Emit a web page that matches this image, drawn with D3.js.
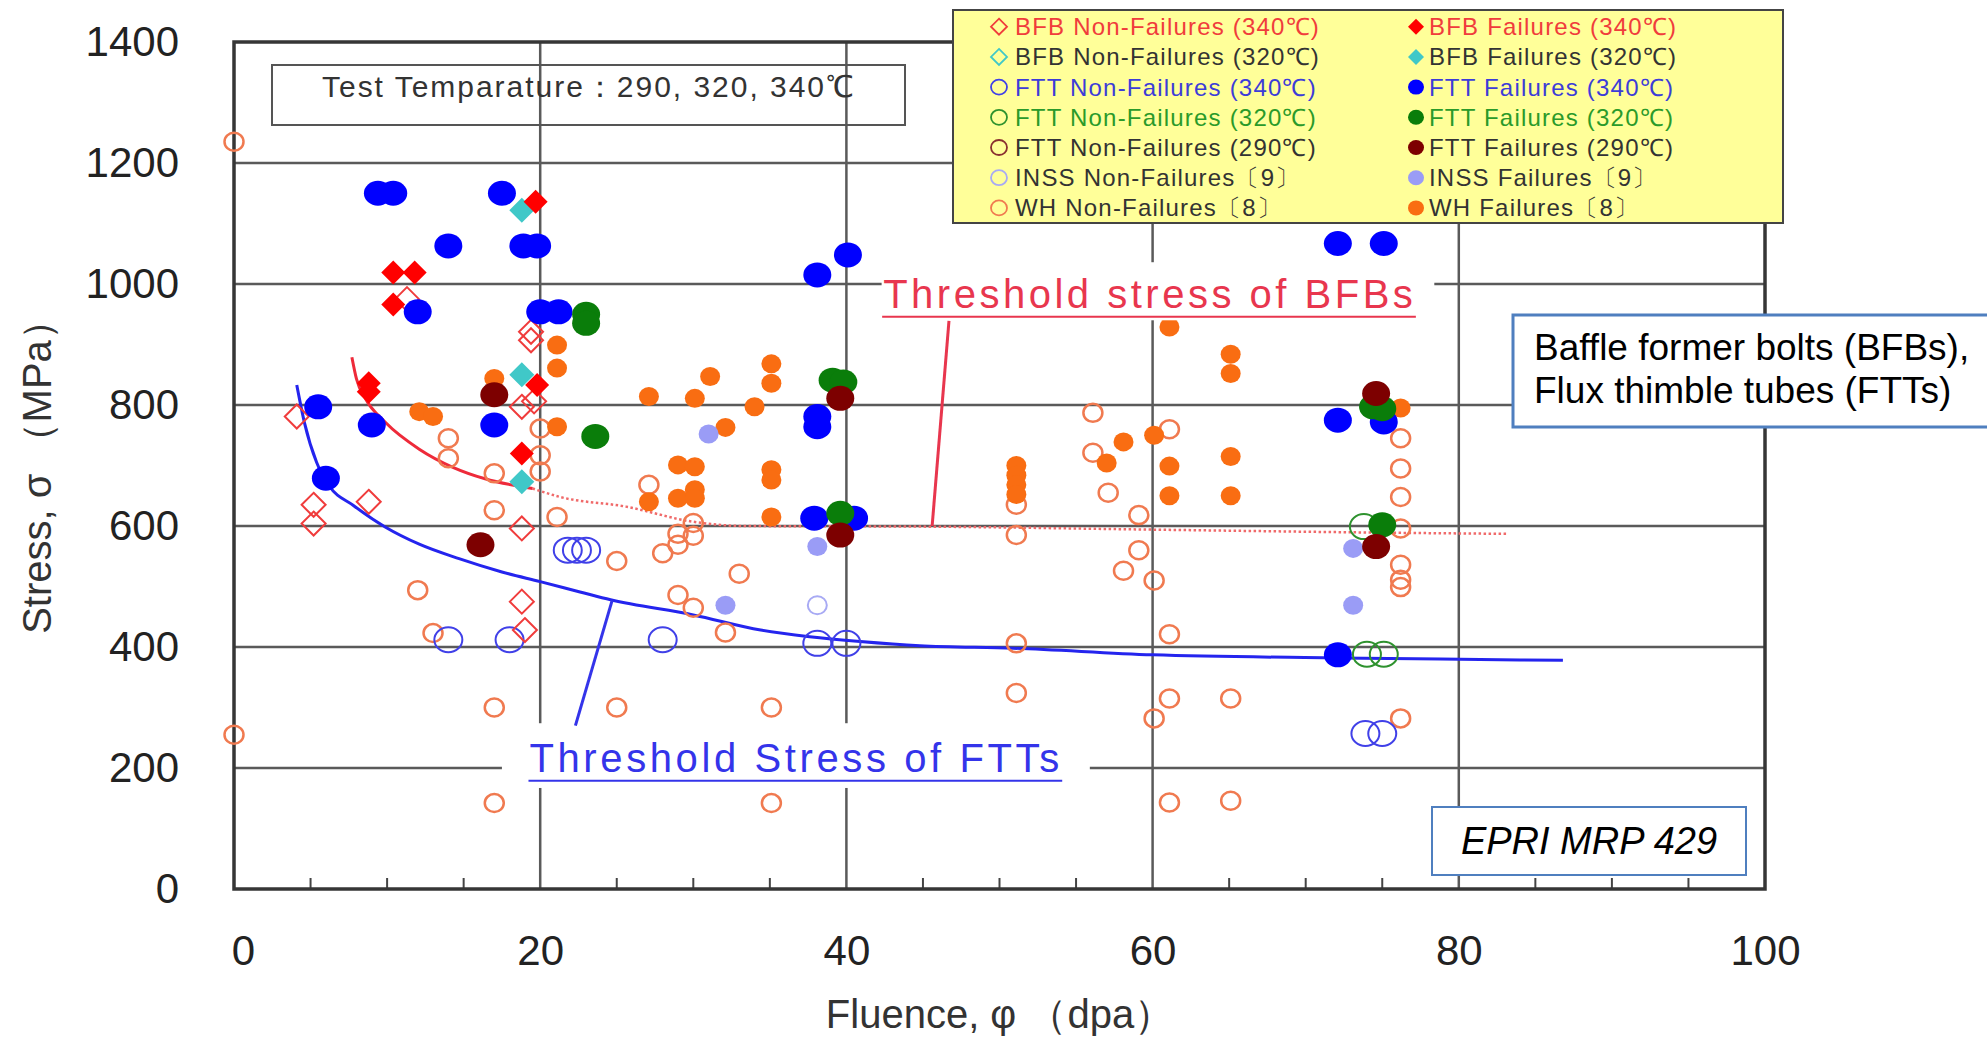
<!DOCTYPE html>
<html>
<head>
<meta charset="utf-8">
<script src="https://cdn.jsdelivr.net/npm/d3@7"></script>
<style>
body{margin:0;background:#fff;}
text{font-family:"Liberation Sans",Arial,sans-serif;}
</style>
</head>
<body>
<svg id="chart"></svg>
<script>

//tick values
var xTicks = [0,20,40,60,80,100];
var xMinorTicks = [5,10,15,25,30,35,45,50,55,65,70,75,85,90,95];
var yTicks = [0,200,400,600,800,1000,1200,1400];

//[fluence dpa, stress MPa]
var bfbFail340 = [[8.8,836],[8.8,822],[10.4,1019],[11.8,1019],[10.4,966],[18.8,720],[19.7,1136],[19.8,833]];
var bfbNon340 = [[4.1,781],[5.2,635],[5.2,604],[8.8,640],[11.3,975],[18.8,797],[19.6,806],[19.4,921],
                 [19.4,907],[18.8,596],[18.8,475],[19.0,428]];
var bfbFail320 = [[18.8,1122],[18.8,850],[18.8,673]];
var bfbNon320 = [];
var fttFail340 = [[5.5,797],[6.0,679],[9.0,767],[9.4,1150],[10.4,1150],[12.0,954],[14.0,1063],[17.0,767],
                  [17.5,1150],[18.9,1063],[19.8,1063],[20.0,954],[21.2,954],[37.9,613],[38.1,1015],
                  [38.1,781],[38.1,764],[40.1,1048],[40.5,613],[72.1,1067],[75.1,1067],[72.1,775],
                  [75.1,772],[72.1,387]];
var fttNon340 = [[14.0,412],[18.0,412],[21.8,560],[22.4,560],[23.0,560],[28.0,412],[38.1,406],[40.0,406],
                 [73.9,257],[75.0,257]];
var fttFail320 = [[23.0,950],[23.0,935],[23.6,748],[39.1,841],[39.8,838],[39.6,621],[74.4,797],[75.0,794],[75.0,602]];
var fttNon320 = [[73.8,599],[74.0,388],[75.1,388]];
var fttFail290 = [[16.1,569],[17.0,817],[39.6,811],[39.6,585],[74.6,819],[74.6,566]];
var fttNon290 = [];
var inssFail = [[31.0,752],[32.1,469],[38.1,566],[73.1,563],[73.1,469]];
var inssNon = [[38.1,469]];
var whFail = [[12.1,789],[13.0,781],[17.0,844],[21.1,899],[21.1,861],[21.1,764],
              [27.1,814],[27.1,640],[29.0,701],[29.0,646],[30.1,698],[30.1,660],[30.1,646],[30.1,811],
              [31.1,847],[32.1,763],[34.0,797],[35.1,868],[35.1,836],[35.1,693],[35.1,676],[35.1,615],
              [51.1,700],[51.1,684],[51.1,668],[51.1,652],
              [57.0,704],[58.1,739],[60.1,750],[61.1,929],[61.1,699],[61.1,650],[65.1,884],[65.1,852],
              [65.1,715],[65.1,650],[76.2,795]];
var whNon = [[0,1235],[0,255],
             [12.0,494],[13.0,423],[14.0,745],[14.0,712],[17.0,687],[17.0,626],[17.0,300],[17.0,142],
             [20.0,761],[20.0,717],[20.0,690],[21.1,615],
             [25.0,542],[25.0,300],[27.1,668],[28.0,555],[29.0,587],[29.0,569],[29.0,486],[30.0,605],
             [30.0,584],[30.0,465],[32.1,424],[33.0,521],[35.1,300],[35.1,142],
             [51.1,635],[51.1,585],[51.1,406],[51.1,324],
             [56.1,787],[56.1,721],[57.1,655],[58.1,526],[59.1,618],[59.1,560],[60.1,510],[60.1,282],
             [61.1,760],[61.1,421],[61.1,315],[61.1,143],[65.1,315],[65.1,146],
             [76.2,745],[76.2,695],[76.2,648],[76.2,596],[76.2,536],[76.2,511],[76.2,499],[76.2,282]];

//threshold curves
var bfbCurve = [[7.7,879],[8.0,843],[8.6,810],[9.9,771],[12.1,727],[14.3,697],[16.4,678],[19.5,662]];
var bfbCurveDotted = [[19.5,662],[21.3,648],[25.6,632],[30.0,607],[33.3,600],[45,599],[60,594],[75,589],[83.2,587]];
var fttCurve = [[4.1,833],[4.6,771],[5.4,705],[6.2,667],[7.8,634],[9.9,598],[12.1,570],[14.7,546],[17.5,524],
                [20.0,508],[22.6,491],[24.6,478],[30.0,453],[34.4,428],[37.6,417],[40.9,409],[44.8,402],
                [50.9,398],[60.0,387],[72.1,382],[78.8,380],[86.8,378]];

var legendOpen = ["BFB Non-Failures (340℃)","BFB Non-Failures (320℃)","FTT Non-Failures (340℃)",
                  "FTT Non-Failures (320℃)","FTT Non-Failures (290℃)","INSS Non-Failures〔9〕","WH Non-Failures〔8〕"];
var legendFilled = ["BFB Failures (340℃)","BFB Failures (320℃)","FTT Failures (340℃)",
                    "FTT Failures (320℃)","FTT Failures (290℃)","INSS Failures〔9〕","WH Failures〔8〕"];

//styles for each kind of marker
var styles = {
    bfbNon340:{shape:"diamond",size:12,fill:"none",stroke:"#f03c3c",sw:2},
    bfbNon320:{shape:"diamond",size:12,fill:"none",stroke:"#40c8c8",sw:2},
    fttNon340:{shape:"circle",rx:14,ry:12.5,fill:"none",stroke:"#4040e8",sw:2},
    fttNon320:{shape:"circle",rx:14,ry:12.5,fill:"none",stroke:"#2e922e",sw:2},
    fttNon290:{shape:"circle",rx:14,ry:12.5,fill:"none",stroke:"#8a3030",sw:2},
    inssNon:{shape:"circle",rx:9.5,ry:9,fill:"none",stroke:"#a8aaf4",sw:2},
    whNon:{shape:"circle",rx:9.5,ry:9,fill:"none",stroke:"#f07a50",sw:2.5},
    bfbFail340:{shape:"diamond",size:12,fill:"#ff0000",stroke:"none",sw:0},
    bfbFail320:{shape:"diamond",size:12.5,fill:"#40c8c8",stroke:"none",sw:0},
    fttFail340:{shape:"circle",rx:14,ry:12.5,fill:"#0000ff",stroke:"none",sw:0},
    fttFail320:{shape:"circle",rx:14,ry:12.5,fill:"#0a7d0a",stroke:"none",sw:0},
    fttFail290:{shape:"circle",rx:14,ry:12.5,fill:"#7d0000",stroke:"none",sw:0},
    inssFail:{shape:"circle",rx:10,ry:9.5,fill:"#9a9cf6",stroke:"none",sw:0},
    whFail:{shape:"circle",rx:10,ry:9.5,fill:"#f96d12",stroke:"none",sw:0}
};

//draw order, open markers first
var series = [
    {key:"whNon",data:whNon},{key:"inssNon",data:inssNon},
    {key:"fttNon340",data:fttNon340},{key:"fttNon320",data:fttNon320},{key:"fttNon290",data:fttNon290},
    {key:"bfbNon340",data:bfbNon340},{key:"bfbNon320",data:bfbNon320},
    {key:"whFail",data:whFail},{key:"inssFail",data:inssFail},
    {key:"fttFail340",data:fttFail340},{key:"fttFail320",data:fttFail320},{key:"fttFail290",data:fttFail290},
    {key:"bfbFail320",data:bfbFail320},{key:"bfbFail340",data:bfbFail340}
];

var legendKeysOpen = ["bfbNon340","bfbNon320","fttNon340","fttNon320","fttNon290","inssNon","whNon"];
var legendKeysFilled = ["bfbFail340","bfbFail320","fttFail340","fttFail320","fttFail290","inssFail","whFail"];
var legendTextColors = ["#f03c3c","#333333","#3c3cd8","#2a9a2a","#333333","#333333","#333333"];


var diamondPath = function(h)
{
    return "M0,"+(-h)+"L"+h+",0L0,"+h+"L"+(-h)+",0Z";
}

var drawPoints = function(g,points,st,xScale,yScale)
{
    if(st.shape=="diamond")
    {
        g.selectAll(null)
            .data(points)
            .enter()
            .append("path")
            .attr("d",diamondPath(st.size))
            .attr("transform",function(d){return "translate("+xScale(d[0])+","+yScale(d[1])+")";})
            .attr("fill",st.fill)
            .attr("stroke",st.stroke)
            .attr("stroke-width",st.sw)
    }
    else
    {
        g.selectAll(null)
            .data(points)
            .enter()
            .append("ellipse")
            .attr("cx",function(d){return xScale(d[0]);})
            .attr("cy",function(d){return yScale(d[1]);})
            .attr("rx",st.rx)
            .attr("ry",st.ry)
            .attr("fill",st.fill)
            .attr("stroke",st.stroke)
            .attr("stroke-width",st.sw)
    }
}

var drawLegendMarker = function(g,x,y,st)
{
    if(st.shape=="diamond")
    {
        g.append("path")
            .attr("d",diamondPath(8))
            .attr("transform","translate("+x+","+y+")")
            .attr("fill",st.fill)
            .attr("stroke",st.stroke)
            .attr("stroke-width",st.sw==0?0:1.8)
    }
    else
    {
        g.append("ellipse")
            .attr("cx",x).attr("cy",y)
            .attr("rx",8).attr("ry",7.5)
            .attr("fill",st.fill)
            .attr("stroke",st.stroke)
            .attr("stroke-width",st.sw==0?0:1.8)
    }
}


var initGraph = function(target)
{
    var screen = {width:1987, height:1038};
    var plot = {left:234, right:1765, top:42, bottom:889};

    var svg = d3.select(target)
        .attr("width",screen.width)
        .attr("height",screen.height)

    var xScale = d3.scaleLinear()
        .domain([0,100])
        .range([plot.left,plot.right])
    var yScale = d3.scaleLinear()
        .domain([0,1400])
        .range([plot.bottom,plot.top])

    //grid
    var grid = svg.append("g").classed("grid",true)
    grid.selectAll(".vgrid")
        .data(xTicks.slice(1,-1))
        .enter()
        .append("line")
        .attr("x1",function(d){return xScale(d);})
        .attr("x2",function(d){return xScale(d);})
        .attr("y1",plot.top)
        .attr("y2",plot.bottom)
        .attr("stroke","#5a5a5a")
        .attr("stroke-width",2.5)
    grid.selectAll(".hgrid")
        .data(yTicks.slice(1,-1))
        .enter()
        .append("line")
        .attr("x1",plot.left)
        .attr("x2",plot.right)
        .attr("y1",function(d){return yScale(d);})
        .attr("y2",function(d){return yScale(d);})
        .attr("stroke","#5a5a5a")
        .attr("stroke-width",2.5)

    //minor ticks on the bottom, pointing up
    grid.selectAll(".minor")
        .data(xMinorTicks)
        .enter()
        .append("line")
        .attr("x1",function(d){return xScale(d);})
        .attr("x2",function(d){return xScale(d);})
        .attr("y1",plot.bottom)
        .attr("y2",plot.bottom-11)
        .attr("stroke","#444")
        .attr("stroke-width",2)

    //frame
    svg.append("rect")
        .attr("x",plot.left)
        .attr("y",plot.top)
        .attr("width",plot.right-plot.left)
        .attr("height",plot.bottom-plot.top)
        .attr("fill","none")
        .attr("stroke","#363636")
        .attr("stroke-width",3.5)

    //axes labels
    var yAxis = d3.axisLeft(yScale).tickValues(yTicks).tickFormat(d3.format("d")).tickSize(0).tickPadding(55)
    var xAxis = d3.axisBottom(xScale).tickValues(xTicks).tickFormat(d3.format("d")).tickSize(0).tickPadding(46)
    svg.append("g")
        .classed("yaxis",true)
        .attr("transform","translate("+plot.left+",0)")
        .call(yAxis)
    svg.append("g")
        .classed("xaxis",true)
        .attr("transform","translate(0,"+plot.bottom+")")
        .call(xAxis)
    svg.selectAll(".xaxis .domain, .yaxis .domain").remove()
    svg.selectAll(".xaxis text, .yaxis text")
        .attr("font-family","Liberation Sans, Arial, sans-serif")
        .attr("font-size",42)
        .attr("fill","#222")
    //the zero label sits a little right of the axis
    svg.selectAll(".xaxis text")
        .filter(function(d){return d==0;})
        .attr("dx",9)

    svg.append("text")
        .attr("transform","translate(37,467) rotate(-90)")
        .attr("text-anchor","middle")
        .attr("dominant-baseline","central")
        .attr("font-size",40)
        .attr("fill","#333")
        .text("Stress, σ （MPa）")
    svg.append("text")
        .attr("x",1000)
        .attr("y",1028)
        .attr("text-anchor","middle")
        .attr("font-size",40)
        .attr("fill","#333")
        .text("Fluence, φ （dpa）")

    //threshold curves
    var line = d3.line()
        .x(function(d){return xScale(d[0]);})
        .y(function(d){return yScale(d[1]);})
        .curve(d3.curveMonotoneX)
    svg.append("path")
        .datum(bfbCurveDotted)
        .attr("d",line)
        .attr("fill","none")
        .attr("stroke","#f06a6a")
        .attr("stroke-width",2.5)
        .attr("stroke-dasharray","2.5,2.5")
    svg.append("path")
        .datum(bfbCurve)
        .attr("d",line)
        .attr("fill","none")
        .attr("stroke","#ee2a3a")
        .attr("stroke-width",3)
    svg.append("path")
        .datum(fttCurve)
        .attr("d",line)
        .attr("fill","none")
        .attr("stroke","#2424ee")
        .attr("stroke-width",3)

    //markers
    var marks = svg.append("g").classed("graph",true)
    series.forEach(function(s)
    {
        drawPoints(marks.append("g"),s.data,styles[s.key],xScale,yScale);
    })

    //curve notes
    drawNote(svg,xScale,yScale,{
        box:[42.3,78.4,1036,940],
        text:"Threshold stress of BFBs", x0:42.4, x1:77.0, base:960, under:946,
        leader:[[46.7,939],[45.6,600]], color:"#e8364e"
    })
    drawNote(svg,xScale,yScale,{
        box:[17.5,55.9,274,167],
        text:"Threshold Stress of FTTs", x0:19.3, x1:53.9, base:193, under:179,
        leader:[[24.7,477],[22.3,270]], color:"#3434ea"
    })

    drawBoxes(svg);
    drawLegend(svg);
}

var drawNote = function(svg,xScale,yScale,n)
{
    svg.append("rect")
        .attr("x",xScale(n.box[0]))
        .attr("y",yScale(n.box[2]))
        .attr("width",xScale(n.box[1])-xScale(n.box[0]))
        .attr("height",yScale(n.box[3])-yScale(n.box[2]))
        .attr("fill","#fff")
    svg.append("text")
        .attr("x",xScale(n.x0))
        .attr("y",yScale(n.base))
        .attr("font-size",40)
        .attr("fill",n.color)
        .attr("textLength",xScale(n.x1)-xScale(n.x0))
        .attr("lengthAdjust","spacing")
        .text(n.text)
    svg.append("line")
        .attr("x1",xScale(n.x0)-1)
        .attr("x2",xScale(n.x1)+3)
        .attr("y1",yScale(n.under))
        .attr("y2",yScale(n.under))
        .attr("stroke",n.color)
        .attr("stroke-width",2)
    svg.append("line")
        .attr("x1",xScale(n.leader[0][0]))
        .attr("y1",yScale(n.leader[0][1]))
        .attr("x2",xScale(n.leader[1][0]))
        .attr("y2",yScale(n.leader[1][1]))
        .attr("stroke",n.color)
        .attr("stroke-width",3)
}

var drawBoxes = function(svg)
{
    //test temperature box
    svg.append("rect")
        .attr("x",272).attr("y",65)
        .attr("width",633).attr("height",60)
        .attr("fill","none")
        .attr("stroke","#555")
        .attr("stroke-width",2)
    svg.append("text")
        .attr("x",322).attr("y",97)
        .attr("font-size",30)
        .attr("textLength",532)
        .attr("lengthAdjust","spacing")
        .attr("fill","#333")
        .text("Test Temparature：290, 320, 340℃")

    //description box
    svg.append("rect")
        .attr("x",1513).attr("y",315)
        .attr("width",520).attr("height",112)
        .attr("fill","#fff")
        .attr("stroke","#4f7fbf")
        .attr("stroke-width",3)
    svg.append("text")
        .attr("x",1534).attr("y",360)
        .attr("font-size",37)
        .attr("fill","#000")
        .text("Baffle former bolts (BFBs),")
    svg.append("text")
        .attr("x",1534).attr("y",403)
        .attr("font-size",37)
        .attr("fill","#000")
        .text("Flux thimble tubes (FTTs)")

    //source box
    svg.append("rect")
        .attr("x",1432).attr("y",807)
        .attr("width",314).attr("height",68)
        .attr("fill","#fff")
        .attr("stroke","#4f7fbf")
        .attr("stroke-width",2)
    svg.append("text")
        .attr("x",1589).attr("y",854)
        .attr("text-anchor","middle")
        .attr("font-size",38)
        .attr("font-style","italic")
        .attr("fill","#000")
        .text("EPRI MRP 429")
}

var drawLegend = function(svg)
{
    var lg = svg.append("g").classed("legend",true)
    lg.append("rect")
        .attr("x",953).attr("y",10)
        .attr("width",830).attr("height",213)
        .attr("fill","#ffff99")
        .attr("stroke","#444")
        .attr("stroke-width",2)

    var rowY = function(i){return 26.7+i*30.2;}

    legendOpen.forEach(function(label,i)
    {
        drawLegendMarker(lg,999,rowY(i),styles[legendKeysOpen[i]]);
        lg.append("text")
            .attr("x",1015).attr("y",rowY(i))
            .attr("dominant-baseline","central")
            .attr("font-size",24)
            .attr("letter-spacing",1.2)
            .attr("fill",legendTextColors[i])
            .text(label)
    })
    legendFilled.forEach(function(label,i)
    {
        drawLegendMarker(lg,1416,rowY(i),styles[legendKeysFilled[i]]);
        lg.append("text")
            .attr("x",1429).attr("y",rowY(i))
            .attr("dominant-baseline","central")
            .attr("font-size",24)
            .attr("letter-spacing",1.2)
            .attr("fill",legendTextColors[i])
            .text(label)
    })
}

initGraph("#chart");

</script>
</body>
</html>
